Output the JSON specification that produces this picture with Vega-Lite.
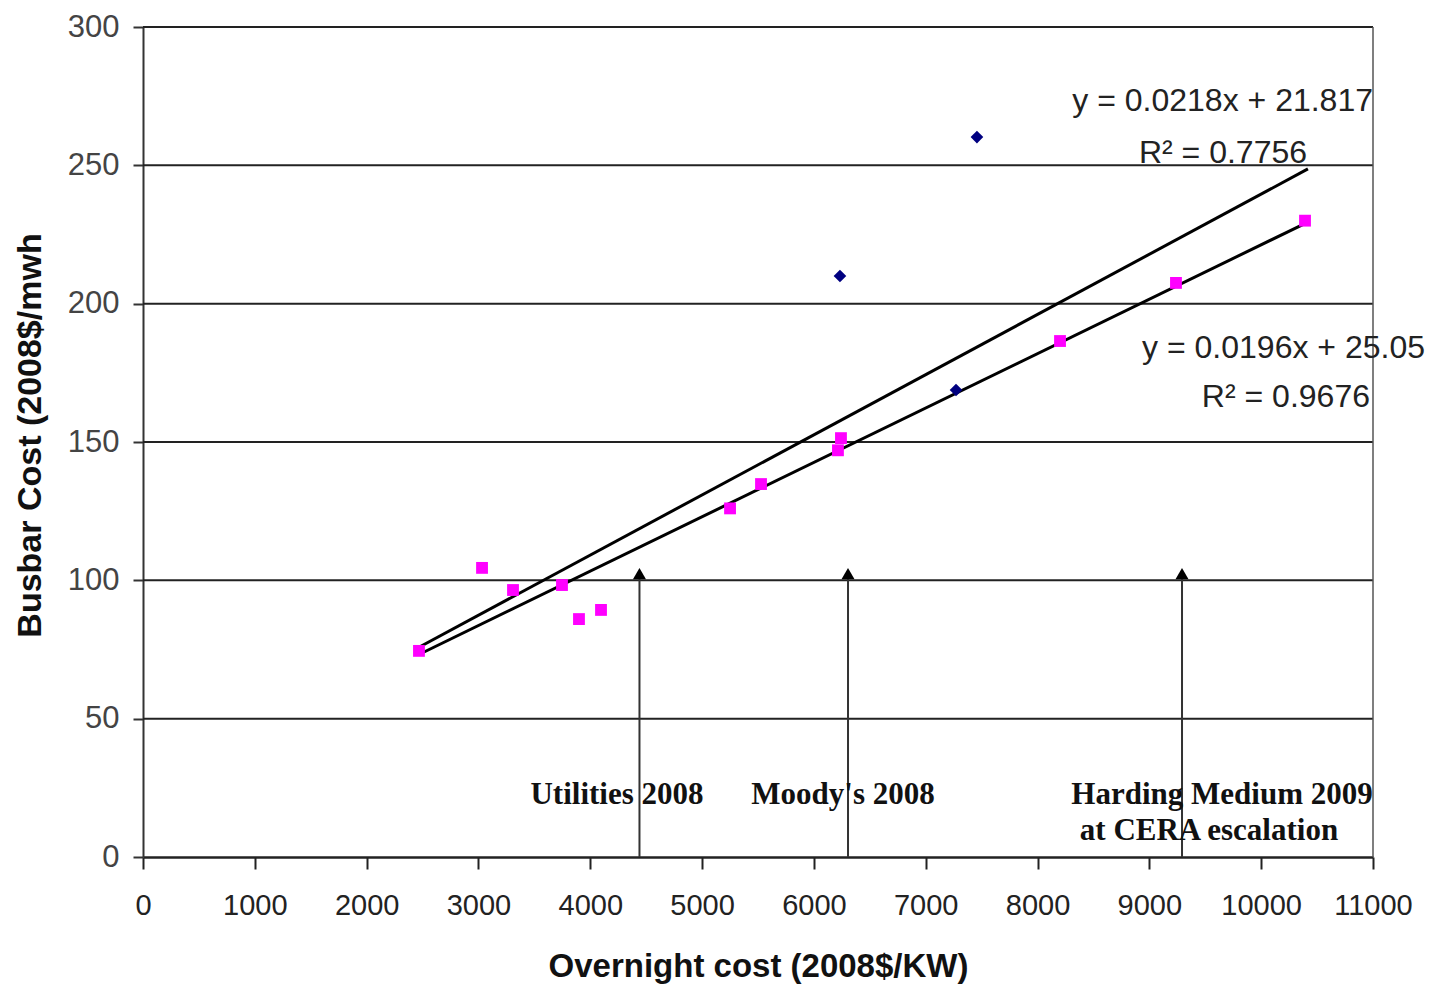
{
  "$schema": "https://vega.github.io/schema/vega-lite/v6.json",
  "width": 1230,
  "height": 830,
  "autosize": "none",
  "padding": {"left": 143, "top": 27, "right": 63, "bottom": 131},
  "background": "white",
  "config": {
    "view": {"stroke": null},
    "font": "Liberation Sans"
  },
  "datasets": {
    "magenta": [
      {"x": 2468, "y": 74.5}, {"x": 3032, "y": 104.5}, {"x": 3309, "y": 96.5},
      {"x": 3747, "y": 98.3}, {"x": 3899, "y": 86}, {"x": 4096, "y": 89.3},
      {"x": 5250, "y": 126}, {"x": 5527, "y": 134.8}, {"x": 6215, "y": 147},
      {"x": 6242, "y": 151.4}, {"x": 8201, "y": 186.5}, {"x": 9238, "y": 207.5},
      {"x": 10392, "y": 230}
    ],
    "navy": [
      {"x": 7458, "y": 260.2}, {"x": 6233, "y": 210}, {"x": 7271, "y": 168.8}
    ],
    "trend": [
      {"series": "A", "x": 2468, "y": 75.8, "x2": 10418, "y2": 248.7},
      {"series": "B", "x": 2468, "y": 73.2, "x2": 10418, "y2": 229.5}
    ],
    "arrows": [
      {"x": 4440, "y": 0, "y2": 101},
      {"x": 6305, "y": 0, "y2": 101},
      {"x": 9292, "y": 0, "y2": 101}
    ],
    "labels": [
      {"x": 4239, "y": 22.4, "text": "Utilities 2008"},
      {"x": 6260, "y": 22.4, "text": "Moody's 2008"},
      {"x": 9650, "y": 22.4, "text": "Harding Medium 2009"},
      {"x": 9533, "y": 9.4, "text": "at CERA escalation"}
    ],
    "eq": [
      {"x": 11000, "y": 273.3, "text": "y = 0.0218x + 21.817"},
      {"x": 10410, "y": 254.5, "text": "R² = 0.7756"},
      {"x": 11465, "y": 184, "text": "y = 0.0196x + 25.05"},
      {"x": 10973, "y": 166.3, "text": "R² = 0.9676"}
    ],
    "grid": [{"y": 50}, {"y": 100}, {"y": 150}, {"y": 200}, {"y": 250}, {"y": 300}],
    "rightborder": [{"x": 11000, "y": 0, "y2": 300}]
  },
  "layer": [
    {
      "data": {"name": "grid"},
      "mark": {"type": "rule", "color": "#222", "strokeWidth": 2},
      "encoding": {
        "y": {
          "field": "y", "type": "quantitative",
          "scale": {"domain": [0, 300], "nice": false},
          "axis": {
            "title": "Busbar Cost (2008$/mwh",
            "titleFont": "Liberation Sans", "titleFontSize": 34, "titleFontWeight": "bold",
            "titleColor": "#111", "titlePadding": 20, "titleY": 408,
            "values": [0, 50, 100, 150, 200, 250, 300],
            "labelFontSize": 31, "labelColor": "#444", "labelPadding": 14,
            "domainColor": "#333", "domainWidth": 2, "tickColor": "#333", "tickWidth": 2, "tickSize": 10,
            "grid": false
          }
        }
      }
    },
    {
      "data": {"name": "rightborder"},
      "mark": {"type": "rule", "color": "#555", "strokeWidth": 1.5},
      "encoding": {
        "x": {"field": "x", "type": "quantitative"},
        "y": {"field": "y", "type": "quantitative"},
        "y2": {"field": "y2"}
      }
    },
    {
      "data": {"name": "arrows"},
      "mark": {"type": "rule", "color": "#333", "strokeWidth": 2},
      "encoding": {
        "x": {"field": "x", "type": "quantitative"},
        "y": {"field": "y", "type": "quantitative"},
        "y2": {"field": "y2"}
      }
    },
    {
      "data": {"name": "arrows"},
      "mark": {"type": "point", "shape": "triangle-up", "filled": true, "color": "#000", "size": 170, "opacity": 1, "yOffset": -4},
      "encoding": {
        "x": {"field": "x", "type": "quantitative"},
        "y": {"field": "y2", "type": "quantitative"}
      }
    },
    {
      "data": {"name": "trend"},
      "mark": {"type": "rule", "color": "#000", "strokeWidth": 3},
      "encoding": {
        "x": {"field": "x", "type": "quantitative"},
        "y": {"field": "y", "type": "quantitative"},
        "x2": {"field": "x2"},
        "y2": {"field": "y2"}
      }
    },
    {
      "data": {"name": "magenta"},
      "mark": {"type": "point", "shape": "square", "filled": true, "color": "#FF00FF", "size": 140, "opacity": 1},
      "encoding": {
        "x": {"field": "x", "type": "quantitative"},
        "y": {"field": "y", "type": "quantitative"}
      }
    },
    {
      "data": {"name": "navy"},
      "mark": {"type": "point", "shape": "diamond", "filled": true, "color": "#000080", "size": 160, "opacity": 1},
      "encoding": {
        "x": {"field": "x", "type": "quantitative"},
        "y": {"field": "y", "type": "quantitative"}
      }
    },
    {
      "data": {"name": "labels"},
      "mark": {"type": "text", "font": "Liberation Serif", "fontWeight": "bold", "fontSize": 31, "color": "#111", "align": "center", "baseline": "middle"},
      "encoding": {
        "x": {"field": "x", "type": "quantitative"},
        "y": {"field": "y", "type": "quantitative"},
        "text": {"field": "text"}
      }
    },
    {
      "data": {"name": "eq"},
      "mark": {"type": "text", "font": "Liberation Sans", "fontSize": 32, "color": "#222", "align": "right", "baseline": "middle", "clip": false},
      "encoding": {
        "x": {"field": "x", "type": "quantitative"},
        "y": {"field": "y", "type": "quantitative"},
        "text": {"field": "text"}
      }
    },
    {
      "data": {"values": [{"x": 0}]},
      "mark": {"type": "point", "opacity": 0},
      "encoding": {
        "x": {
          "field": "x", "type": "quantitative",
          "scale": {"domain": [0, 11000], "nice": false},
          "axis": {
            "title": "Overnight cost (2008$/KW)",
            "titleFont": "Liberation Sans", "titleFontSize": 33, "titleFontWeight": "bold",
            "titleColor": "#111", "titlePadding": 30,
            "values": [0, 1000, 2000, 3000, 4000, 5000, 6000, 7000, 8000, 9000, 10000, 11000],
            "format": "d",
            "labelOverlap": false,
            "labelFlush": false,
            "labelFontSize": 29, "labelColor": "#222", "labelPadding": 22,
            "domainColor": "#222", "domainWidth": 2.5, "tickColor": "#222", "tickWidth": 2, "tickSize": 12,
            "grid": false
          }
        }
      }
    }
  ]
}
